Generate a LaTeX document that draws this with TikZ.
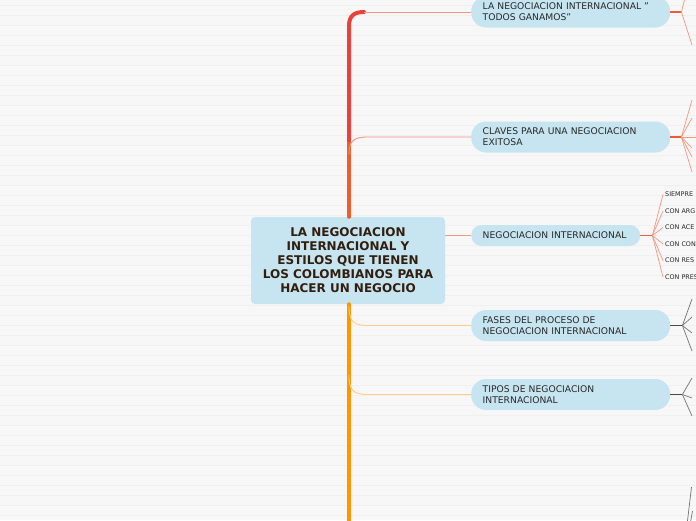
\documentclass[tikz,border=0pt]{standalone}
\usepackage{fontspec}
\setmainfont{DejaVu Sans}
\usetikzlibrary{positioning}
\usepackage{xcolor}
\definecolor{paper}{RGB}{247,247,247}
\definecolor{paperline}{RGB}{240,240,240}
\definecolor{topicblue}{RGB}{198,229,240}
\definecolor{trunkred}{RGB}{232,66,60}
\definecolor{trunkmid}{RGB}{240,92,44}
\definecolor{trunkorange}{RGB}{255,150,0}
\definecolor{linksalmon}{RGB}{245,150,128}
\definecolor{linkpeach}{RGB}{255,204,140}
\definecolor{hubred}{RGB}{236,92,58}
\definecolor{hubgray}{RGB}{75,75,75}
\definecolor{leafgray}{RGB}{115,115,115}
\definecolor{titlebrown}{RGB}{50,30,15}
\definecolor{topictext}{RGB}{40,40,40}

\tikzset{
  rootbox/.style={fill=topicblue, rounded corners=4pt, minimum width=194pt, minimum height=87pt,
    align=center, text=titlebrown, font=\bfseries\fontsize{12}{14}\selectfont, inner sep=0pt},
  topic/.style={fill=topicblue, rounded corners=15pt, minimum height=31pt, anchor=west,
    text width=176pt, inner xsep=11.5pt, inner ysep=0pt, align=left, text=topictext,
    font=\fontsize{9.2}{11}\selectfont},
  leaflabel/.style={anchor=west, inner sep=0pt, text=topictext, font=\fontsize{6.4}{7}\selectfont},
  trunk/.style={line width=4pt, line cap=round},
  link/.style={line width=0.9pt},
  hub/.style={line width=1.6pt},
  leaf/.style={line width=0.7pt}
}

\begin{document}
\begin{tikzpicture}[x=1pt, y=-1pt]
  \useasboundingbox (0,0) rectangle (696,520);
  \clip (0,0) rectangle (696,520);
  \fill[paper] (0,0) rectangle (696,520);
  \foreach \y in {5,15,...,515}
    \draw[paperline, line width=0.7pt] (0,\y) -- (696,\y);

  % central topic
  \node[rootbox] (root) at (348,260.5) {LA NEGOCIACION\\INTERNACIONAL Y\\ESTILOS QUE TIENEN\\LOS COLOMBIANOS PARA\\HACER UN NEGOCIO};

  % main topics
  \node[topic] (todos) at (471,12) {LA NEGOCIACION INTERNACIONAL "\\TODOS GANAMOS"};
  \node[topic] (claves) at (471,137) {CLAVES PARA UNA NEGOCIACION\\EXITOSA};
  \node[topic, minimum height=21pt, rounded corners=10.5pt, text width=146pt] (negint) at (471,235.5) {NEGOCIACION INTERNACIONAL};
  \node[topic] (fases) at (471,325.5) {FASES DEL PROCESO DE\\NEGOCIACION INTERNACIONAL};
  \node[topic] (tipos) at (471,394.5) {TIPOS DE NEGOCIACION\\INTERNACIONAL};

  % trunk
  \draw[trunk, trunkmid] (root.north -| 349,0) -- (349,140);
  \draw[trunk, trunkred] (349,140) -- (349,26) .. controls (349,16) and (354,12) .. (364,12);
  \draw[trunk, trunkorange] (root.south -| 349,0) -- (349,530);

  % branches
  \draw[link, linksalmon] (364,12) -- (todos.west);
  \draw[link, linksalmon] (349,155) .. controls (349,141) and (353,137) .. (368,137) -- (claves.west);
  \draw[link, linksalmon] (root.east |- negint.west) -- (negint.west);
  \draw[link, linkpeach] (349,306) .. controls (349,321) and (353,325.5) .. (368,325.5) -- (fases.west);
  \draw[link, linkpeach] (349,375) .. controls (349,390) and (353,394.5) .. (368,394.5) -- (tipos.west);

  % sub topics of todos
  \coordinate (htodos) at ([xshift=11pt]todos.east);
  \draw[hub, hubred] (todos.east) -- (htodos);
  \foreach \p in {(685,-2),(692,45)}
    \draw[leaf, linksalmon] (htodos) -- \p;

  % sub topics of claves
  \coordinate (hclaves) at ([xshift=11pt]claves.east);
  \draw[hub, hubred] (claves.east) -- (hclaves);
  \foreach \p in {(692,100),(692,118),(697,137),(692,148),(692,157),(692,172)}
    \draw[leaf, linksalmon] (hclaves) -- \p;

  % sub topics of negint
  \coordinate (hnegint) at ([xshift=12pt]negint.east);
  \draw[hub, hubred] (negint.east) -- (hnegint);
  \node[leaflabel] (s1) at (665,194.5) {SIEMPRE};
  \node[leaflabel] (s2) at (665,211) {CON ARG};
  \node[leaflabel] (s3) at (665,227.5) {CON ACE};
  \node[leaflabel] (s4) at (665,244) {CON CON};
  \node[leaflabel] (s5) at (665,260.5) {CON RES};
  \node[leaflabel] (s6) at (665,277) {CON PRES};
  \foreach \s in {s1,s2,s3,s4,s5,s6}
    \draw[leaf, linksalmon] (hnegint) -- ([xshift=-2pt]\s.west);

  % sub topics of fases
  \coordinate (hfases) at ([xshift=12pt]fases.east);
  \draw[hub, hubgray] (fases.east) -- (hfases);
  \foreach \p in {(692,299),(692,317),(692,333),(692,351)}
    \draw[leaf, leafgray] (hfases) -- \p;

  % sub topics of tipos
  \coordinate (htipos) at ([xshift=12pt]tipos.east);
  \draw[hub, hubgray] (tipos.east) -- (htipos);
  \foreach \p in {(692,378),(692,398),(692,416)}
    \draw[leaf, leafgray] (htipos) -- \p;

  % leaves of a topic below the page
  \draw[leaf, leafgray] (691.5,487) -- (687,525);
  \draw[leaf, leafgray] (692.5,511) -- (690,525);
\end{tikzpicture}
\end{document}
